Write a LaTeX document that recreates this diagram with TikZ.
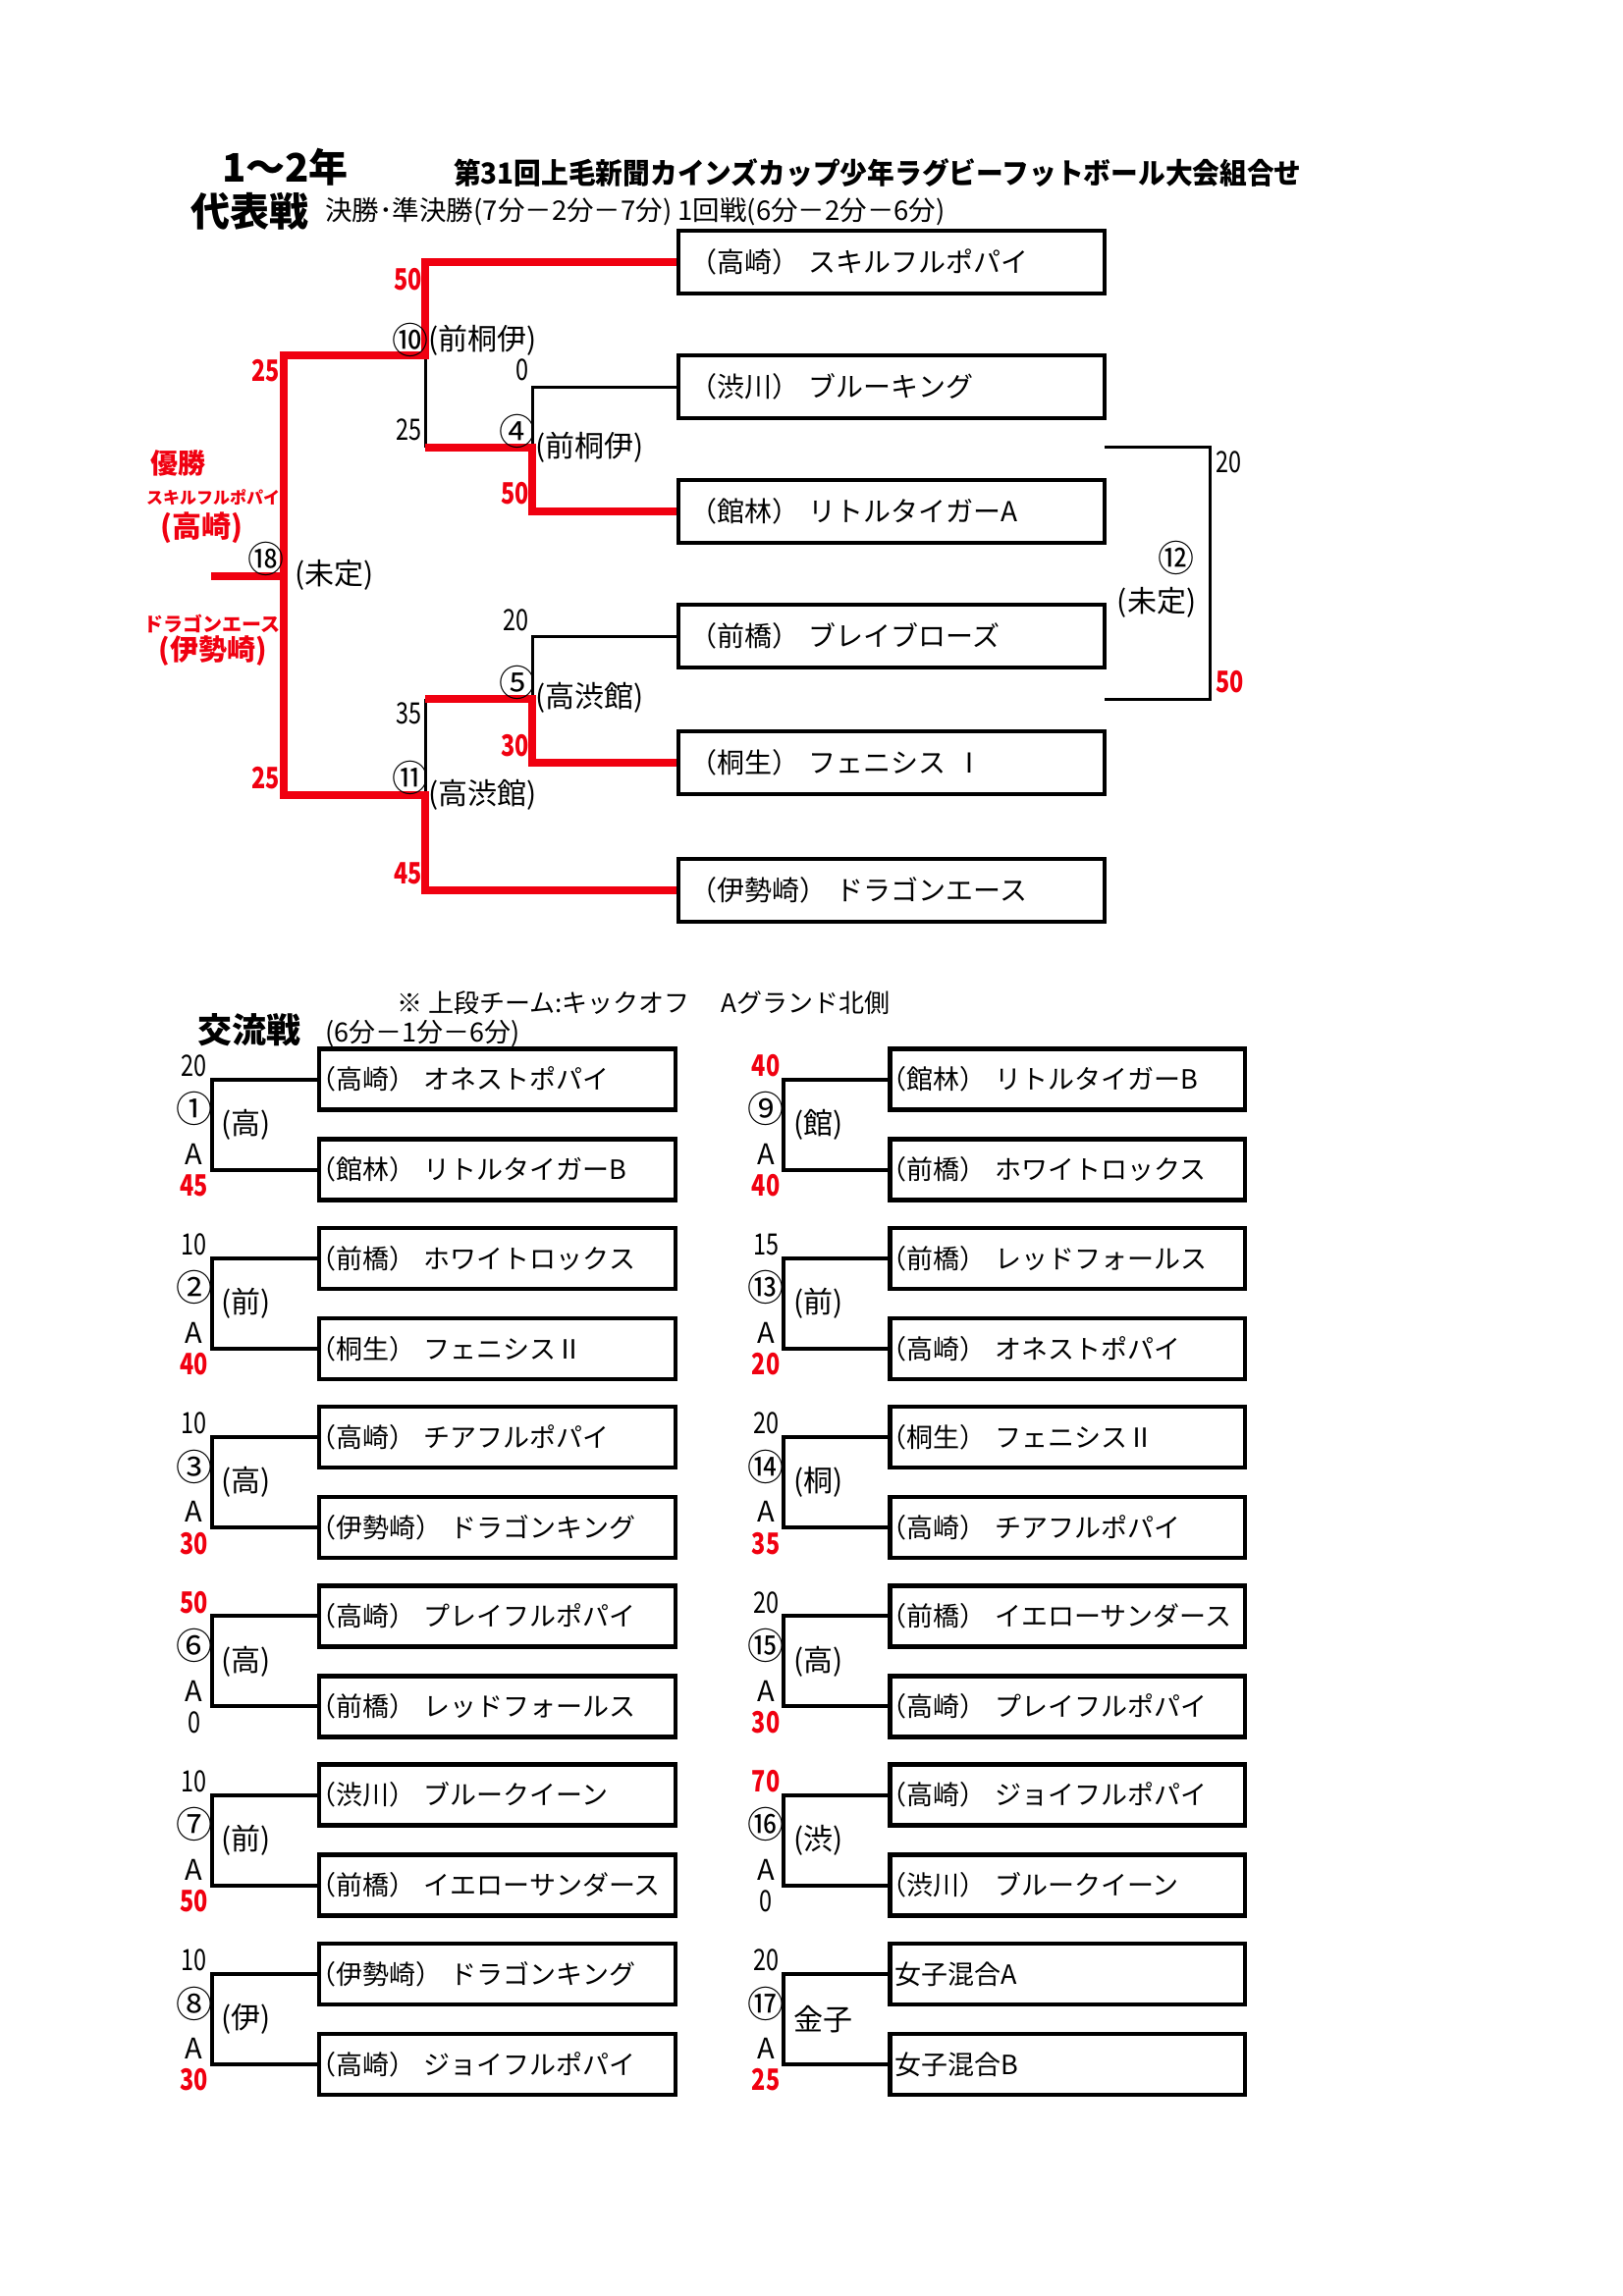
\documentclass[tikz,border=0pt]{standalone}
\usepackage{fontspec}
\setmainfont{Noto Sans CJK JP}
\newfontfamily\cond{Noto Sans CJK JP}[FakeStretch=0.78]
\newfontfamily\condt{Noto Sans CJK JP}[FakeStretch=0.94]
\definecolor{rd}{RGB}{240,0,16}
\tikzset{
  tbox/.style={draw, line width=3.5pt, text width=411pt, inner xsep=11.5pt, inner ysep=0pt, minimum height=64pt, align=left, font=\fontsize{28}{30}\selectfont},
  sbox/.style={draw, line width=4.5pt, text width=#1, inner xsep=0pt, inner ysep=0pt, minimum height=62pt, align=left, font=\fontsize{27}{30}\selectfont, execute at begin node={\hspace*{-10pt}}},
  rline/.style={draw=rd, line width=8pt},
  kline/.style={draw=black, line width=3pt},
  sline/.style={draw=black, line width=4pt},
  bnum/.style={font=\cond\fontsize{30}{31}\selectfont, inner sep=0pt},
  rnum/.style={font=\cond\bfseries\fontsize{30}{31}\selectfont, text=rd, inner sep=0pt},
  alab/.style={font=\fontsize{29}{31}\selectfont, inner sep=0pt},
  circ/.style={font=\fontsize{37}{39}\selectfont, inner sep=0pt},
  lab/.style={font=\fontsize{30}{32}\selectfont, inner sep=0pt},
  rlab/.style={text=rd, inner sep=0pt},
}
\begin{document}
\begin{tikzpicture}[x=1pt,y=-1pt]
\fill[white] (0,0) rectangle (1653,2339);
\useasboundingbox (0,0) rectangle (1653,2339);

% titles
\node[anchor=west, inner sep=0pt, font=\bfseries\fontsize{40}{42}\selectfont] (ttl1) at (226,170) {1～2年};
\node[anchor=west, inner sep=0pt, font=\condt\bfseries\fontsize{29.5}{32}\selectfont] (ttl2) at (462,176) {第31回上毛新聞カインズカップ少年ラグビーフットボール大会組合せ};
\node[anchor=west, inner sep=0pt, font=\bfseries\fontsize{40}{42}\selectfont] (ttl3) at (194,215) {代表戦};
\node[anchor=west, inner sep=0pt, font=\fontsize{27.5}{30}\selectfont] (ttl4) at (331,216) {決勝･準決勝(7分－2分－7分) 1回戦(6分－2分－6分)};

% top bracket boxes
\node[tbox] (t1) at (908,267) {（高崎） スキルフルポパイ};
\node[tbox] (t2) at (908,394) {（渋川） ブルーキング};
\node[tbox] (t3) at (908,521) {（館林） リトルタイガーA};
\node[tbox] (t4) at (908,648) {（前橋） ブレイブローズ};
\node[tbox] (t5) at (908,777) {（桐生） フェニシス Ⅰ};
\node[tbox] (t6) at (908,907) {（伊勢崎） ドラゴンエース};

\coordinate (j4) at (542,456);
\coordinate (j5) at (542,712);
\coordinate (p10) at (433,456);
\coordinate (p11) at (433,712);
\coordinate (j10) at (433,362);
\coordinate (j11) at (433,810);
\coordinate (j18) at (289,587);
\coordinate (fin) at (215,587);
\coordinate (r12a) at (1125,455);
\coordinate (r12v) at (1232,584);
\coordinate (r12b) at (1125,712);

% black lines
\draw[kline] (t2.west) -| (j4);
\draw[kline] (p10) -- (j10);
\draw[kline] (t4.west) -| (j5);
\draw[kline] (p11) -- (j11);
\draw[kline] (r12a) -| (r12v) |- (r12b);
% red lines
\draw[rline] (t1.west) -| (j10) -| (j18);
\draw[rline] (t3.west) -| (j4) -- (p10);
\draw[rline] (t5.west) -| (j5) -- (p11);
\draw[rline] (t6.west) -| (j11) -| (j18);
\draw[rline] (j18) -- (fin);

% top bracket labels
\node[rnum, anchor=east] (s1) at (430,285) {50};
\node[circ] (c10) at (418,346) {⑩};
\node[lab, anchor=west] (w10) at (436,347) {(前桐伊)};
\node[rnum, anchor=east] (s2) at (285,378) {25};
\node[bnum, anchor=east] (s3) at (539,377) {0};
\node[bnum, anchor=east] (s4) at (430,438) {25};
\node[circ] (c4) at (527,439) {④};
\node[lab, anchor=west] (w4) at (545,456) {(前桐伊)};
\node[rnum, anchor=east] (s5) at (539,503) {50};
\node[rlab, font=\bfseries\fontsize{28}{30}\selectfont] (v1) at (181,472) {優勝};
\node[rlab, font=\bfseries\fontsize{17}{19}\selectfont] (v2) at (217,507) {スキルフルポパイ};
\node[rlab, font=\bfseries\fontsize{30}{32}\selectfont] (v3) at (205,538) {(高崎)};
\node[circ] (c18) at (271,569) {⑱};
\node[lab, anchor=west] (w18) at (300,586) {(未定)};
\node[rlab, font=\bfseries\fontsize{20}{22}\selectfont] (v4) at (216,635) {ドラゴンエース};
\node[rlab, font=\bfseries\fontsize{29}{31}\selectfont] (v5) at (217,663) {(伊勢崎)};
\node[bnum, anchor=east] (s6) at (539,632) {20};
\node[circ] (c5) at (527,695) {⑤};
\node[lab, anchor=west] (w5) at (545,711) {(高渋館)};
\node[bnum, anchor=east] (s7) at (430,727) {35};
\node[rnum, anchor=east] (s8) at (539,760) {30};
\node[rnum, anchor=east] (s9) at (285,793) {25};
\node[circ] (c11) at (418,792) {⑪};
\node[lab, anchor=west] (w11) at (436,810) {(高渋館)};
\node[rnum, anchor=east] (s10) at (430,890) {45};
\node[bnum, anchor=west] (s11) at (1238,471) {20};
\node[rnum, anchor=west] (s12) at (1238,695) {50};
\node[circ] (c12) at (1198,568) {⑫};
\node[lab] (w12) at (1178,614) {(未定)};

% exchange matches
\node[anchor=west, inner sep=0pt, font=\fontsize{26}{28}\selectfont] (note) at (404,1022) {※ 上段チーム:キックオフ　 Aグランド北側};
\node[anchor=west, inner sep=0pt, font=\bfseries\fontsize{35}{38}\selectfont] (kt) at (201,1049) {交流戦};
\node[anchor=west, inner sep=0pt, font=\fontsize{27}{30}\selectfont] (kt2) at (331,1053) {(6分－1分－6分)};

\foreach \num/\c/\k/\cn/\ts/\tst/\bs/\bst/\md/\ta/\tb in {
 1/0/0/①/20/bnum/45/rnum/(高)/（高崎） オネストポパイ/（館林） リトルタイガーB,
 2/0/1/②/10/bnum/40/rnum/(前)/（前橋） ホワイトロックス/（桐生） フェニシスⅡ,
 3/0/2/③/10/bnum/30/rnum/(高)/（高崎） チアフルポパイ/（伊勢崎） ドラゴンキング,
 6/0/3/⑥/50/rnum/0/bnum/(高)/（高崎） プレイフルポパイ/（前橋） レッドフォールス,
 7/0/4/⑦/10/bnum/50/rnum/(前)/（渋川） ブルークイーン/（前橋） イエローサンダース,
 8/0/5/⑧/10/bnum/30/rnum/(伊)/（伊勢崎） ドラゴンキング/（高崎） ジョイフルポパイ,
 9/1/0/⑨/40/rnum/40/rnum/(館)/（館林） リトルタイガーB/（前橋） ホワイトロックス,
 13/1/1/⑬/15/bnum/20/rnum/(前)/（前橋） レッドフォールス/（高崎） オネストポパイ,
 14/1/2/⑭/20/bnum/35/rnum/(桐)/（桐生） フェニシスⅡ/（高崎） チアフルポパイ,
 15/1/3/⑮/20/bnum/30/rnum/(高)/（前橋） イエローサンダース/（高崎） プレイフルポパイ,
 16/1/4/⑯/70/rnum/0/bnum/(渋)/（高崎） ジョイフルポパイ/（渋川） ブルークイーン,
 17/1/5/⑰/20/bnum/25/rnum/金子/\hspace*{15pt}女子混合A/\hspace*{15pt}女子混合B}
{
 \pgfmathsetmacro\yA{1099.5+182.3*\k}
 \pgfmathsetmacro\yB{\yA+92}
 \pgfmathsetmacro\yM{\yA+46}
 \pgfmathsetmacro\xv{\c==0 ? 215.5 : 798}
 \pgfmathsetmacro\xb{\c==0 ? 506.5 : 1087}
 \pgfmathsetmacro\bw{\c==0 ? 363 : 361.5}
 \pgfmathsetmacro\xl{\xv-18}
 \node[sbox=\bw pt] (a\num) at (\xb,\yA) {\ta};
 \node[sbox=\bw pt] (b\num) at (\xb,\yB) {\tb};
 \coordinate (v\num) at (\xv,\yM);
 \draw[sline] (a\num.west) -| (v\num) |- (b\num.west);
 \node[\tst] (ts\num) at (\xl,\yA-14) {\ts};
 \node[circ] (cn\num) at (\xl,\yM-16) {\cn};
 \node[alab] (ga\num) at (\xl,\yB-16) {A};
 \node[\bst] (bs\num) at (\xl,\yB+16) {\bs};
 \node[lab, anchor=west] (md\num) at (\xv+10,\yM) {\md};
}
\end{tikzpicture}
\end{document}
